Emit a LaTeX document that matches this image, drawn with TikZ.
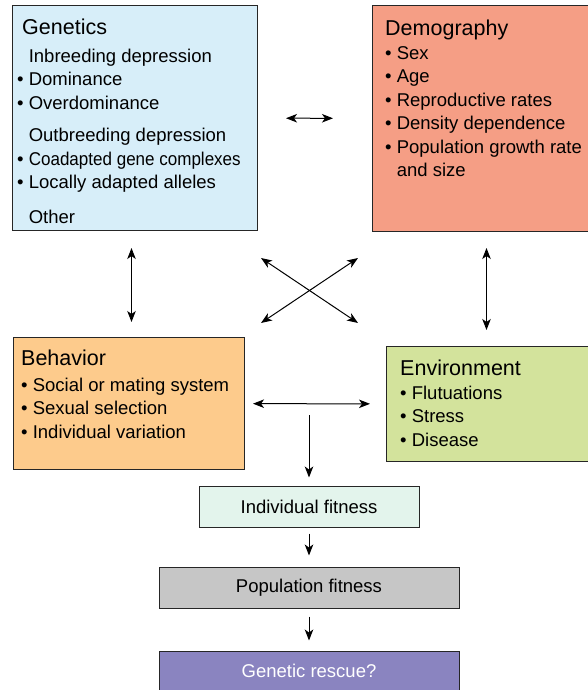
\documentclass[tikz,border=0pt]{standalone}
\usepackage{fontspec}
\setmainfont{Liberation Sans}
\usepackage{graphicx}
\usetikzlibrary{arrows.meta,positioning,calc}
\definecolor{genblue}{RGB}{215,238,249}
\definecolor{demred}{RGB}{245,158,133}
\definecolor{behorange}{RGB}{253,203,140}
\definecolor{envgreen}{RGB}{211,227,156}
\definecolor{indgreen}{RGB}{227,244,236}
\definecolor{popgray}{RGB}{198,198,198}
\definecolor{rescpurple}{RGB}{138,132,192}
\tikzstyle{box} = [draw=black!85, line width=1pt, inner sep=0pt, anchor=north west]
\tikzstyle{txt} = [anchor=north west, align=left, inner sep=0pt, font=\fontsize{18.5}{23.5}\selectfont]
\tikzstyle{fit} = [draw=black!85, line width=1pt, font=\fontsize{18.5}{23.5}\selectfont]
\tikzstyle{twoway} = [<->, >={Stealth[length=11pt,width=8.5pt,inset=3pt]}, line width=1pt]
\tikzstyle{oneway} = [->, >={Stealth[length=11pt,width=8.5pt,inset=3pt]}, line width=1pt]
\newcommand{\bul}{\textbullet\ }
\newcommand{\nob}{\phantom{\textbullet\ }}
\newcommand{\ttl}[1]{{\fontsize{21.5}{26}\selectfont #1}}

\begin{document}
\begin{tikzpicture}[x=1pt,y=-1pt]
\clip (0,0) rectangle (588,690);
% the four factor boxes
\node[box, fill=genblue, minimum width=245pt, minimum height=225pt] (gen) at (12,5) {};
\node[box, fill=demred, minimum width=222pt, minimum height=226pt] (dem) at (372,5) {};
\node[box, fill=behorange, minimum width=231pt, minimum height=132pt] (beh) at (13,337) {};
\node[box, fill=envgreen, minimum width=208pt, minimum height=115pt] (env) at (386,346) {};
\node[txt] (gentxt) at (17,19) {\ttl{\hspace{5pt}Genetics}\\[4pt]
  \nob Inbreeding depression\\
  \bul Dominance\\
  \bul Overdominance\\[9pt]
  \nob Outbreeding depression\\
  \bul \scalebox{0.92}[1]{Coadapted gene complexes}\\
  \bul Locally adapted alleles\\[11pt]
  \nob Other};
\node[txt] (demtxt) at (385,20) {\ttl{Demography}\\
  \bul Sex\\
  \bul Age\\
  \bul Reproductive rates\\
  \bul Density dependence\\
  \bul Population growth rate\\
  \nob and size};
\node[txt] (behtxt) at (21,350) {\ttl{Behavior}\\[2pt]
  \bul Social or mating system\\
  \bul Sexual selection\\
  \bul Individual variation};
\node[txt] (envtxt) at (400,360) {\ttl{Environment}\\
  \bul Flutuations\\
  \bul Stress\\
  \bul Disease};
% fitness chain
\node[fit, fill=indgreen, minimum width=220pt, minimum height=41pt] (ind) at (309,506.5) {Individual fitness};
\node[fit, fill=popgray, minimum width=300pt, minimum height=41pt] (pop) at (309,587.5) {Population fitness};
\node[fit, fill=rescpurple, text=white, minimum width=300pt, minimum height=40pt] (resc) at (309,671) {Genetic rescue?};
% arrows
\coordinate (xa) at (261,258);
\coordinate (xb) at (358,323);
\coordinate (xc) at (358,258);
\coordinate (xd) at (261,323);
\coordinate (down) at (309,415);
\draw[twoway, shorten <=28pt, shorten >=39pt] (gen) -- (dem);
\draw[twoway] ($(gen.south)+(-3.5,17)$) -- ($(beh.north)+(2.5,-15)$);
\draw[twoway] ($(dem.south)+(3,16)$) -- ($(env.north)+(-4,-16)$);
\draw[twoway] (xa) -- (xb);
\draw[twoway] (xc) -- (xd);
\draw[twoway, shorten <=8pt, shorten >=16pt] (beh) -- (env);
\draw[oneway, shorten >=8pt] (down) -- (ind);
\draw[oneway, shorten <=6pt, shorten >=11pt] (ind) -- (pop);
\draw[oneway, shorten <=8pt, shorten >=10pt] (pop) -- (resc);
\end{tikzpicture}
\end{document}
